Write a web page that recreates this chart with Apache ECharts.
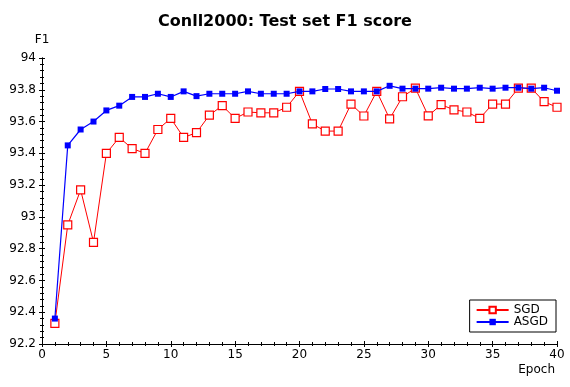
<!DOCTYPE html>
<html><head><meta charset="utf-8">
<script src="https://cdn.jsdelivr.net/npm/echarts@6/dist/echarts.min.js"></script>
<style>html,body{margin:0;padding:0;background:#fff}#c{width:570px;height:387px}</style>
</head><body><div id="c"></div>
<script>
const epochs = [1,2,3,4,5,6,7,8,9,10,11,12,13,14,15,16,17,18,19,20,21,22,23,24,25,26,27,28,29,30,31,32,33,34,35,36,37,38,39,40];
const sgd = [92.33,92.95,93.17,92.84,93.40,93.50,93.43,93.40,93.55,93.62,93.50,93.53,93.64,93.70,93.62,93.66,93.655,93.655,93.69,93.79,93.585,93.54,93.54,93.71,93.635,93.79,93.617,93.756,93.81,93.636,93.706,93.674,93.66,93.62,93.71,93.71,93.81,93.81,93.725,93.69];
const asgd = [92.36,93.45,93.55,93.60,93.67,93.70,93.755,93.755,93.775,93.755,93.79,93.76,93.775,93.775,93.775,93.79,93.775,93.775,93.775,93.79,93.79,93.805,93.805,93.79,93.79,93.79,93.825,93.807,93.807,93.807,93.813,93.807,93.807,93.813,93.807,93.813,93.813,93.807,93.813,93.794];
const seriesNames = ['SGD','ASGD'];
const titleText = 'Conll2000: Test set F1 score';

const font = 'DejaVu Sans';
const pairs = v => epochs.map((e,i)=>[e,v[i]]);
const chart = echarts.init(document.getElementById('c'), null, {renderer:'canvas'});
const axisBase = {
  axisLine:{show:true,onZero:false,lineStyle:{color:'#000',width:1}},
  splitLine:{show:false}
};
chart.setOption({
  animation:false,
  backgroundColor:'#fff',
  title:{text:titleText,left:'center',top:9,textStyle:{fontFamily:font,fontSize:16,fontWeight:'bold',color:'#000'}},
  grid:{left:42,right:13,top:58,bottom:43,containLabel:false},
  legend:{
    orient:'vertical',right:14,bottom:55,
    data:seriesNames,
    itemWidth:32,itemHeight:8,itemGap:0,
    borderColor:'#000',borderWidth:1,borderRadius:0,padding:[4,8,4,6],
    textStyle:{fontFamily:font,fontSize:12,color:'#000',padding:[0,0,0,0]}
  },
  xAxis:[
    Object.assign({type:'value',min:0,max:40,interval:5,
      name:'Epoch',nameLocation:'end',nameGap:-2,
      nameTextStyle:{fontFamily:font,fontSize:12,color:'#000',align:'right',verticalAlign:'top',padding:[20,0,0,0]},
      axisTick:{show:true,inside:false,length:3,lineStyle:{color:'#000'}},
      minorTick:{show:true,splitNumber:5,length:2,lineStyle:{color:'#000'}},
      axisLabel:{fontFamily:font,fontSize:12,color:'#000',margin:5}},axisBase),
    Object.assign({type:'value',min:0,max:40,interval:5,position:'bottom',
      axisTick:{show:true,inside:true,length:3,lineStyle:{color:'#000'}},
      minorTick:{show:true,splitNumber:5,length:2,lineStyle:{color:'#000'}},
      axisLabel:{show:false}},axisBase)
  ],
  yAxis:[
    Object.assign({type:'value',min:92.2,max:94,interval:0.2,
      name:'F1',nameLocation:'end',nameGap:12,
      nameTextStyle:{fontFamily:font,fontSize:12,color:'#000',align:'center'},
      axisTick:{show:true,inside:false,length:3,lineStyle:{color:'#000'}},
      minorTick:{show:true,splitNumber:5,length:2,lineStyle:{color:'#000'}},
      axisLabel:{fontFamily:font,fontSize:12,color:'#000',margin:6}},axisBase),
    Object.assign({type:'value',min:92.2,max:94,interval:0.2,position:'left',
      axisTick:{show:true,inside:true,length:3,lineStyle:{color:'#000'}},
      minorTick:{show:true,splitNumber:5,length:2,lineStyle:{color:'#000'}},
      axisLabel:{show:false}},axisBase)
  ],
  series:[
    {name:seriesNames[0],type:'line',data:pairs(sgd),
     symbol:'rect',symbolSize:8,
     lineStyle:{color:'#ff0000',width:1},
     itemStyle:{color:'#fff',borderColor:'#ff0000',borderWidth:1.2},
     z:2},
    {name:seriesNames[1],type:'line',data:pairs(asgd),
     symbol:'rect',symbolSize:6,
     lineStyle:{color:'#0000ff',width:1.2},
     itemStyle:{color:'#0000ff',borderColor:'#0000ff',borderWidth:0},
     z:3}
  ]
});
</script></body></html>
